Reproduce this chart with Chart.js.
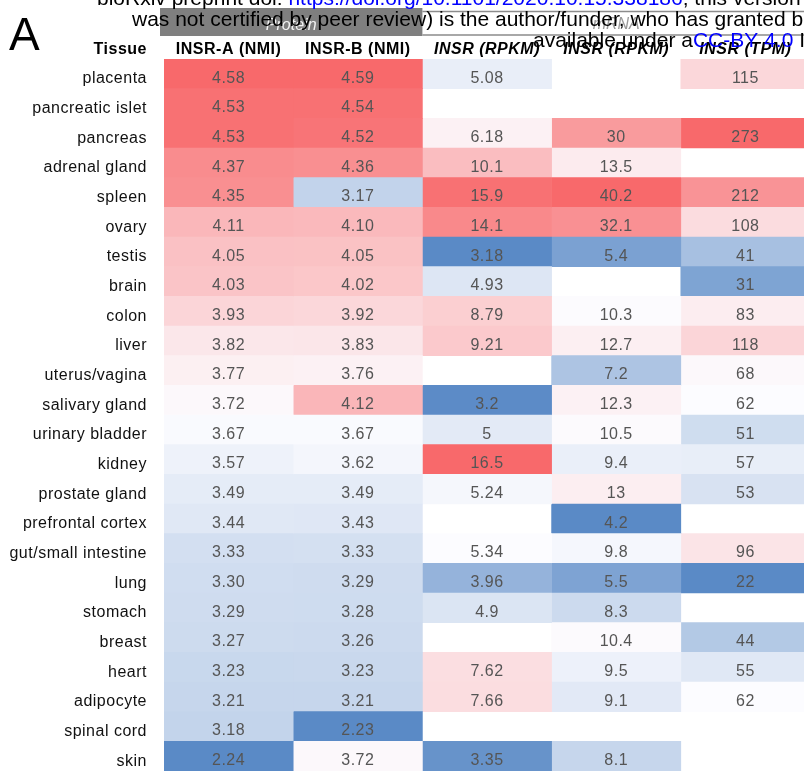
<!DOCTYPE html>
<html>
<head>
<meta charset="utf-8">
<title>INSR expression by tissue</title>
<script src="https://cdn.jsdelivr.net/npm/chart.js@4.4.1/dist/chart.umd.min.js"></script>
<style>
    html, body { margin: 0; padding: 0; background: #fff; overflow: hidden; }
    #wrap { position: relative; width: 810px; height: 771px; }
</style>
</head>
<body>
<div id="wrap"><canvas id="heatmap" width="810" height="771"></canvas></div>
<script>
// Rows and column headers
const tissues = [
    'placenta', 'pancreatic islet', 'pancreas', 'adrenal gland', 'spleen', 'ovary',
    'testis', 'brain', 'colon', 'liver', 'uterus/vagina', 'salivary gland',
    'urinary bladder', 'kidney', 'prostate gland', 'prefrontal cortex',
    'gut/small intestine', 'lung', 'stomach', 'breast', 'heart', 'adipocyte',
    'spinal cord', 'skin'
];
const colHeaders = ['INSR-A (NMI)', 'INSR-B (NMI)', 'INSR (RPKM)', 'INSR (RPKM)', 'INSR (TPM)'];
const groupHeaders = ['Protein', 'mRNA'];

// Values per column (null = no data)
const insrA = [4.58, 4.53, 4.53, 4.37, 4.35, 4.11, 4.05, 4.03, 3.93, 3.82, 3.77, 3.72,
    3.67, 3.57, 3.49, 3.44, 3.33, 3.30, 3.29, 3.27, 3.23, 3.21, 3.18, 2.24];
const insrB = [4.59, 4.54, 4.52, 4.36, 3.17, 4.10, 4.05, 4.02, 3.92, 3.83, 3.76, 4.12,
    3.67, 3.62, 3.49, 3.43, 3.33, 3.29, 3.28, 3.26, 3.23, 3.21, 2.23, 3.72];
const rpkmA = [5.08, null, 6.18, 10.1, 15.9, 14.1, 3.18, 4.93, 8.79, 9.21, null, 3.2,
    5, 16.5, 5.24, null, 5.34, 3.96, 4.9, null, 7.62, 7.66, null, 3.35];
const rpkmB = [null, null, 30, 13.5, 40.2, 32.1, 5.4, null, 10.3, 12.7, 7.2, 12.3,
    10.5, 9.4, 13, 4.2, 9.8, 5.5, 8.3, 10.4, 9.5, 9.1, null, 8.1];
const tpm = [115, null, 273, null, 212, 108, 41, 31, 83, 118, 68, 62,
    51, 57, 53, null, 96, 22, null, 44, 55, 62, null, null];

const columns = [insrA, insrB, rpkmA, rpkmB, tpm];
const fixedDigits = [2, 2, null, null, null];

const FONT = "'Liberation Sans', Arial, Helvetica, sans-serif";
Chart.defaults.font.family = FONT;

// Excel-style 3 colour scale: min blue, median white, max red
const LOW = [90, 138, 198];
const MID = [252, 252, 255];
const HIGH = [248, 105, 107];

function median(sorted) {
    const n = sorted.length;
    return n % 2 ? sorted[(n - 1) / 2] : (sorted[n / 2 - 1] + sorted[n / 2]) / 2;
}

function cellColor(v, vals) {
    if (v === null) return 'rgba(0,0,0,0)';
    const nums = vals.filter(x => x !== null).sort((a, b) => a - b);
    const lo = nums[0], hi = nums[nums.length - 1], mid = median(nums);
    let t, from, to;
    if (v <= mid) {
        t = mid === lo ? 1 : (v - lo) / (mid - lo); from = LOW; to = MID;
    } else {
        t = hi === mid ? 1 : (v - mid) / (hi - mid); from = MID; to = HIGH;
    }
    const c = from.map((f, i) => Math.round(f + (to[i] - f) * t));
    return `rgb(${c[0]}, ${c[1]}, ${c[2]})`;
}

function cellText(v, c) {
    return fixedDigits[c] ? v.toFixed(fixedDigits[c]) : String(v);
}

// Headers, cell values and the preprint overlay
const decorPlugin = {
    id: 'decor',
    beforeDraw(chart) {
        const ctx = chart.ctx;
        const x = chart.scales.x;
        ctx.save();
        // Protein group box
        const p0 = x.getPixelForValue(0) - 4, p1 = x.getPixelForValue(2);
        ctx.fillStyle = '#7f7f7f';
        ctx.fillRect(p0, 8, p1 - p0, 28);
        // mRNA group box (lines only)
        const m1 = x.getPixelForValue(5);
        ctx.strokeStyle = '#8c8c8c';
        ctx.lineWidth = 1.5;
        ctx.beginPath();
        ctx.moveTo(p1, 11.5); ctx.lineTo(m1, 11.5);
        ctx.moveTo(p1, 35); ctx.lineTo(m1, 35);
        ctx.stroke();
        ctx.font = 'italic 16px ' + FONT;
        ctx.textAlign = 'center';
        ctx.textBaseline = 'alphabetic';
        ctx.fillStyle = '#f2f2f2';
        ctx.fillText(groupHeaders[0], (p0 + p1) / 2, 30);
        ctx.fillStyle = '#9a9a9a';
        ctx.fillText(groupHeaders[1], (p1 + m1) / 2, 29);
        ctx.restore();
        // every chart text below is slightly spaced out
        ctx.letterSpacing = '0.5px';
    },
    afterDatasetsDraw(chart) {
        const ctx = chart.ctx;
        ctx.save();
        ctx.font = '16px ' + FONT;
        ctx.fillStyle = '#555555';
        ctx.textAlign = 'center';
        ctx.textBaseline = 'middle';
        chart.data.datasets.forEach((ds, c) => {
            const meta = chart.getDatasetMeta(c);
            meta.data.forEach((el, i) => {
                const v = columns[c][i];
                if (v === null || !el) return;
                ctx.fillText(cellText(v, c), (el.x + el.base) / 2, el.y + 4.5);
            });
        });
        ctx.restore();
    },
    afterDraw(chart) {
        const ctx = chart.ctx;
        ctx.save();
        ctx.fillStyle = '#000';
        ctx.font = 'bold 16px ' + FONT;
        ctx.textAlign = 'right';
        ctx.textBaseline = 'alphabetic';
        ctx.fillText('Tissue', 147, 54);
        ctx.letterSpacing = '0px';
        ctx.textAlign = 'left';
        ctx.font = '46px ' + FONT;
        ctx.fillText('A', 9, 50);

        // bioRxiv overlay lines: [text, colour] segments
        const lines = [
            { x: 97, y: 5, parts: [['bioRxiv preprint doi: ', '#000'],
                ['https://doi.org/10.1101/2020.10.15.338186', '#0000ff'],
                ['; this version posted October 15, 2020.', '#000']] },
            { x: 132, y: 26, parts: [['was not certified by peer review) is the author/funder, who has granted bioRxiv', '#000']] },
            { x: 533, y: 47, parts: [['available under a', '#000'],
                ['CC-BY 4.0', '#0000ff'], [' International license.', '#000']] }
        ];
        ctx.font = '21px ' + FONT;
        lines.forEach(line => {
            let cx = line.x;
            line.parts.forEach(([txt, col]) => {
                ctx.fillStyle = col;
                ctx.fillText(txt, cx, line.y);
                cx += ctx.measureText(txt).width;
            });
        });
        ctx.restore();
    }
};

const chart = new Chart(document.getElementById('heatmap'), {
    type: 'bar',
    data: {
        labels: tissues,
        datasets: columns.map((vals, c) => ({
            label: colHeaders[c],
            data: vals.map(v => (v === null ? null : [c, c + 1])),
            backgroundColor: vals.map(v => cellColor(v, vals)),
            borderWidth: 0,
            categoryPercentage: 1,
            barPercentage: 1,
            grouped: false
        }))
    },
    options: {
        indexAxis: 'y',
        responsive: false,
        animation: false,
        layout: { padding: 0 },
        plugins: {
            legend: { display: false },
            tooltip: { enabled: false }
        },
        scales: {
            x: {
                type: 'linear',
                position: 'top',
                min: 0,
                max: 5,
                grid: { display: false, drawTicks: false },
                border: { display: false },
                afterBuildTicks(scale) {
                    scale.ticks = colHeaders.map((_, i) => ({ value: i + 0.5 }));
                },
                afterFit(scale) {
                    scale.height = 59;
                    scale.paddingLeft = 0;
                    scale.paddingRight = 0;
                },
                ticks: {
                    autoSkip: false,
                    maxRotation: 0,
                    padding: 0,
                    color: '#000',
                    font: ctx => ({ size: 16, weight: 'bold', style: ctx.index >= 2 ? 'italic' : 'normal' }),
                    callback: (value, index) => colHeaders[index]
                }
            },
            y: {
                grid: { display: false, drawTicks: false },
                border: { display: false },
                afterFit(scale) {
                    scale.width = 164;
                    scale.paddingTop = 0;
                    scale.paddingBottom = 0;
                },
                ticks: {
                    padding: 17,
                    labelOffset: 5,
                    color: '#111',
                    font: { size: 16 }
                }
            }
        }
    },
    plugins: [decorPlugin]
});
</script>
</body>
</html>
